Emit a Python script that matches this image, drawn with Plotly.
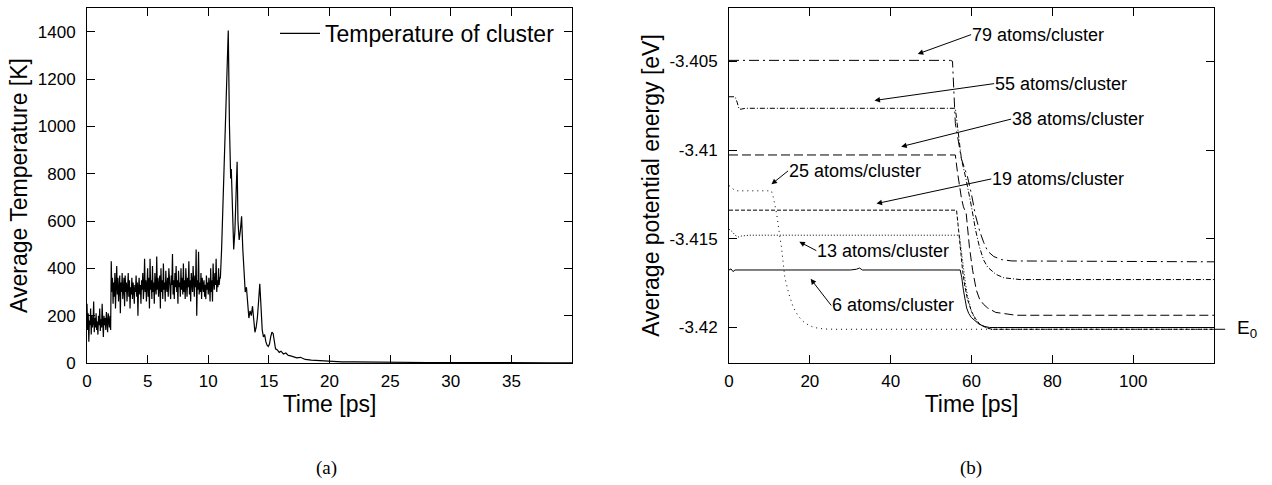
import numpy as np
import plotly.graph_objects as go

# ---------------- Panel (a): temperature of cluster ----------------
temp_step = 0.05  # ps, sampling of the noisy part (0 .. 10.95 ps)
temp_noisy = [
    250, 140, 210, 90, 180, 160, 230, 120, 200, 150, 170, 260, 130, 190, 150, 210, 140, 175, 120, 200,
    160, 230, 135, 185, 150, 250, 170, 110, 200, 160, 190, 140, 215, 170, 130, 210, 180, 150, 200, 140,
    430, 300, 360, 250, 340, 280, 380, 230, 330, 410, 290, 360, 260, 320, 370, 210, 340, 300, 380, 270,
    330, 360, 240, 370, 300, 340, 260, 310, 380, 280, 350, 230, 320, 290, 360, 270, 340, 310, 250, 330,
    300, 370, 280, 340, 200, 320, 360, 290, 330, 250, 350, 310, 380, 270, 320, 440, 300, 350, 260, 330,
    400, 280, 360, 230, 440, 310, 350, 270, 410, 300, 340, 250, 380, 320, 290, 450, 310, 360, 280, 330,
    370, 230, 400, 300, 350, 270, 420, 310, 340, 260, 390, 320, 300, 360, 280, 400, 330, 310, 270, 370,
    330, 460, 290, 350, 270, 380, 320, 410, 300, 350, 250, 390, 320, 340, 280, 400, 310, 360, 290, 420,
    300, 350, 270, 400, 330, 280, 360, 320, 430, 290, 350, 260, 380, 330, 300, 410, 340, 280, 370, 320,
    480, 200, 350, 310, 470, 290, 340, 300, 380, 270, 360, 320, 300, 350, 280, 330, 270, 370, 310, 340,
    290, 360, 330, 260, 400, 300, 350, 260, 420, 340, 310, 380, 330, 440, 300, 350, 320, 400, 330, 360,
]
time_noisy = np.arange(len(temp_noisy)) * temp_step

time_peak = [
    11.0, 11.1, 11.2, 11.25, 11.35, 11.45, 11.55, 11.65, 11.75, 11.85, 11.9, 12.0, 12.1, 12.2, 12.3,
    12.38, 12.45, 12.55, 12.65, 12.75, 12.85, 12.95, 13.05, 13.15, 13.25, 13.35, 13.45, 13.55, 13.65,
    13.75, 13.85, 13.95, 14.05, 14.15, 14.25, 14.35, 14.45, 14.55, 14.65, 14.75, 14.85, 14.95, 15.05,
    15.15, 15.25, 15.35, 15.45, 15.55, 15.7, 15.85, 16.0, 16.2, 16.4, 16.6, 16.8, 17.0, 17.3, 17.6,
    18.0, 18.5, 19.0, 19.5, 20, 21, 22, 23, 24, 25, 26, 28, 30, 32, 34, 36, 38, 40,
]
temp_peak = [
    360, 480, 640, 750, 970, 1080, 1250, 1405, 1000, 780, 820, 600, 480, 560, 700,
    850, 600, 520, 560, 620, 480, 380, 300, 320, 230, 190, 220, 200, 240,
    170, 130, 150, 190, 260, 335, 240, 140, 110, 120, 90, 75, 70, 80,
    110, 130, 125, 80, 60, 55, 45, 50, 38, 42, 32, 30, 26, 22, 24,
    15, 12, 10, 8, 7, 5, 5, 4, 3, 3, 2, 2, 2, 1, 2, 1, 1, 1,
]
time_a = list(time_noisy) + time_peak
temp_a = temp_noisy + temp_peak

xticks_a = [0, 5, 10, 15, 20, 25, 30, 35]
yticks_a = [0, 200, 400, 600, 800, 1000, 1200, 1400]

# ---------------- Panel (b): average potential energy ----------------
t79 = [0, 54.8, 55.3, 56.0, 57.5, 59.0, 60.0, 61.0, 62.0, 63.0, 64.0, 65.5, 67.5, 70.0, 120]
e79 = [-3.40495, -3.40495, -3.4050, -3.4085, -3.4105, -3.4115, -3.4125, -3.4137, -3.41455,
       -3.4152, -3.4157, -3.4160, -3.41618, -3.41625, -3.4163]

t55 = [0, 1.5, 2.0, 2.5, 3.0, 4, 56.0, 56.5, 57.0, 57.5, 58.0, 58.7, 60, 61, 62, 63, 64, 66, 68, 72, 120]
e55 = [-3.4070, -3.4070, -3.4073, -3.4077, -3.4077, -3.40765, -3.40765, -3.4085, -3.4095, -3.4105,
       -3.4110, -3.4117, -3.4132, -3.4145, -3.41549, -3.4162, -3.4166, -3.4170, -3.4172, -3.4173, -3.4173]

t38 = [0, 56.0, 56.5, 57.0, 57.5, 58.0, 58.7, 59.5, 60.3, 61.2, 62.0, 63.0, 64.0, 66.0, 68.0, 71.0, 120]
e38 = [-3.41028, -3.41028, -3.4112, -3.4120, -3.4127, -3.4132, -3.4136, -3.4155, -3.4168, -3.4179,
       -3.4184, -3.4187, -3.4189, -3.41915, -3.4192, -3.41931, -3.41931]

t25 = [0, 1.0, 2.0, 10.5, 11.0, 11.8, 12.4, 13.0, 13.8, 14.8, 15.9, 17.0, 18.0, 19.2, 21, 23.3, 26, 120]
e25 = [-3.4120, -3.4122, -3.4123, -3.4123, -3.4127, -3.4136, -3.4146, -3.4155, -3.41717, -3.4181,
       -3.41886, -3.4193, -3.4196, -3.4198, -3.4200, -3.42008, -3.4201, -3.4201]

t19 = [0, 56.3, 56.8, 57.3, 57.8, 58.3, 59.0, 60.0, 61.0, 62.0, 63.5, 65, 67, 120]
e19 = [-3.41339, -3.41339, -3.4145, -3.4158, -3.4168, -3.4176, -3.4184, -3.4191, -3.4195, -3.4198,
       -3.4200, -3.4201, -3.4201, -3.4201]

t13 = [0, 0.8, 1.5, 2.3, 3.0, 5, 57.0, 57.5, 58.0, 58.5, 59.0, 60, 61, 62, 63.5, 65, 67, 120]
e13 = [-3.41446, -3.4146, -3.4148, -3.4149, -3.41485, -3.4148, -3.4148, -3.4158, -3.4167, -3.4175,
       -3.4182, -3.4191, -3.4196, -3.4198, -3.4200, -3.4201, -3.4201, -3.4201]

t6 = [0, 0.5, 1.0, 1.5, 30, 31.5, 32.3, 33, 57.2, 57.6, 58.0, 58.4, 58.8, 59.3, 60.0, 60.8, 61.8,
      63.0, 64.5, 66.5, 120]
e6 = [-3.41676, -3.41670, -3.41685, -3.41676, -3.41676, -3.41672, -3.41665, -3.41676, -3.41676,
      -3.4172, -3.4179, -3.4185, -3.4189, -3.4192, -3.41945, -3.4196, -3.4198, -3.41993, -3.4200,
      -3.4200, -3.4200]

e_zero = -3.4201

xticks_b = [0, 20, 40, 60, 80, 100]
yticks_b = [-3.405, -3.41, -3.415, -3.42]
yticklabels_b = ["-3.405", "-3.41", "-3.415", "-3.42"]

label_text = ["79 atoms/cluster", "55 atoms/cluster", "38 atoms/cluster", "19 atoms/cluster",
              "25 atoms/cluster", "13 atoms/cluster", "6 atoms/cluster"]

FONT = "Liberation Sans, Arial, Helvetica, sans-serif"
BLACK = "#000000"

fig = go.Figure()

fig.add_trace(go.Scatter(
    x=time_a, y=temp_a, mode="lines", name="Temperature of cluster",
    line=dict(color=BLACK, width=1.2), xaxis="x", yaxis="y", showlegend=True,
))

series_b = [
    (t79, e79, "10px,4px,2px,4px"),
    (t55, e55, "5px,2px,1px,2px"),
    (t38, e38, "9px,4px"),
    (t25, e25, "1px,4px"),
    (t19, e19, "4px,2px"),
    (t13, e13, "1px,2px"),
    (t6, e6, "solid"),
]
for tt, ee, dash in series_b:
    fig.add_trace(go.Scatter(
        x=tt, y=ee, mode="lines", showlegend=False,
        line=dict(color=BLACK, width=1, dash=dash), xaxis="x2", yaxis="y2",
    ))

axis_common = dict(
    ticks="inside", ticklen=8, tickwidth=1, tickcolor=BLACK,
    showline=True, linecolor=BLACK, linewidth=1, mirror="allticks",
    showgrid=False, zeroline=False, automargin=False,
    tickfont=dict(family=FONT, size=17, color=BLACK),
)
title_font = dict(family=FONT, size=23, color=BLACK)

ydom = [1 - 363 / 485, 1 - 8 / 485]
fig.update_layout(
    width=1272, height=485,
    margin=dict(l=0, r=0, t=0, b=0),
    paper_bgcolor="white", plot_bgcolor="white",
    font=dict(family=FONT, color=BLACK),
    xaxis=dict(axis_common, domain=[87 / 1272, 572 / 1272], range=[0, 40], tickvals=xticks_a,
               anchor="y", ticklabelstandoff=3,
               title=dict(text="Time [ps]", font=title_font, standoff=0)),
    yaxis=dict(axis_common, domain=ydom, range=[0, 1500], tickvals=yticks_a,
               anchor="x", ticklabelstandoff=7,
               title=dict(text="Average Temperature [K]", font=title_font, standoff=3)),
    xaxis2=dict(axis_common, domain=[729 / 1272, 1214 / 1272], range=[0, 120], tickvals=xticks_b,
                anchor="y2", ticklabelstandoff=3,
                title=dict(text="Time [ps]", font=title_font, standoff=0)),
    yaxis2=dict(axis_common, domain=ydom, range=[-3.422, -3.402], tickvals=yticks_b,
                ticktext=yticklabels_b, anchor="x2", ticklabelstandoff=7,
                title=dict(text="Average potential energy [eV]", font=title_font, standoff=3)),
    legend=dict(x=560 / 1272, xanchor="right", y=1 - 12 / 485, yanchor="top",
                xref="paper", yref="paper",
                bgcolor="rgba(0,0,0,0)", font=dict(family=FONT, size=23, color=BLACK),
                itemwidth=40, tracegroupgap=0),
    showlegend=True,
)

# arrows with labels in panel (b): tip = point on curve, tail = left edge of text
tips = [(46.7, -3.40459), (36.0, -3.40721), (42.6, -3.40981), (36.5, -3.41302),
        (10.5, -3.41193), (17.4, -3.41517), (20.2, -3.41726)]
tails = [(59.9, -3.40350), (65.6, -3.40626), (69.8, -3.40826), (64.9, -3.41163),
         (14.6, -3.41118), (21.6, -3.41567), (25.3, -3.41876)]
for lbl, (xt, yt), (xa, ya) in zip(label_text, tips, tails):
    fig.add_annotation(x=xt, y=yt, ax=xa, ay=ya, xref="x2", yref="y2", axref="x2", ayref="y2",
                       text=lbl, showarrow=True, arrowhead=2, arrowsize=1.1, arrowwidth=1,
                       arrowcolor=BLACK, standoff=0, startstandoff=0,
                       xanchor="left", yanchor="middle", borderpad=0,
                       font=dict(family=FONT, size=18, color=BLACK))

# E0 marker
fig.add_shape(type="line", xref="x2 domain", yref="y2", x0=1.0, x1=1.023, y0=e_zero, y1=e_zero,
              line=dict(color=BLACK, width=1))
fig.add_annotation(x=1.043, y=e_zero, xref="x2 domain", yref="y2", text="E<sub>0</sub>",
                   showarrow=False, xanchor="left", yanchor="middle",
                   font=dict(family=FONT, size=19, color=BLACK))

# sub-figure labels
for lbl, xc in [("(a)", 326 / 1272), ("(b)", 971 / 1272)]:
    fig.add_annotation(x=xc, y=1 - 468 / 485, xref="paper", yref="paper", text=lbl,
                       showarrow=False, xanchor="center", yanchor="middle",
                       font=dict(family="Liberation Serif, Times New Roman, serif", size=19, color=BLACK))

fig.write_html("out.html")
